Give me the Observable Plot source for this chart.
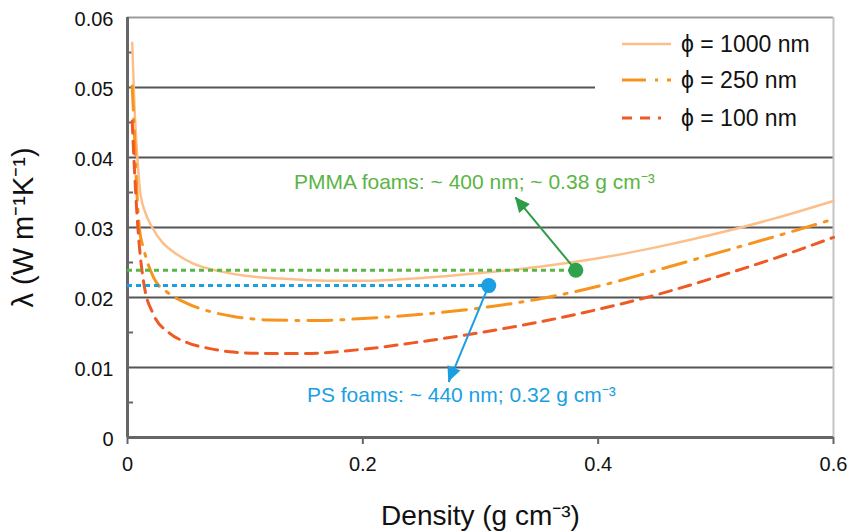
<!DOCTYPE html>
<html>
<head>
<meta charset="utf-8">
<script src="https://cdn.jsdelivr.net/npm/d3@7"></script>
<script src="https://cdn.jsdelivr.net/npm/@observablehq/plot@0.6"></script>
<style>
  body { margin: 0; background: #fff; }
  #wrap { position: relative; width: 849px; height: 532px; font-family: "Liberation Sans", Arial, sans-serif; }
  #legend { position: absolute; left: 615px; top: 26px; }
  .lrow { position: absolute; left: 0; height: 30px; width: 230px; display: flex; align-items: center; white-space: nowrap; }
  .lrow svg { margin-left: 7px; margin-right: 9px; }
  .lrow span { font-size: 23px; color: #111; }
</style>
</head>
<body>
<div id="wrap"></div>
<script>
// ---------- data ----------
const seriesNames = ["ϕ = 1000 nm", "ϕ = 250 nm", "ϕ = 100 nm"];

const density1000 = [0.004, 0.006, 0.008, 0.011, 0.015, 0.021, 0.03, 0.04, 0.055, 0.08, 0.1, 0.13, 0.17, 0.2, 0.25, 0.3, 0.35, 0.4, 0.45, 0.5, 0.55, 0.6];
const lambda1000  = [0.0564, 0.047, 0.041, 0.0348, 0.0322, 0.0300, 0.0278, 0.0264, 0.0249, 0.0237, 0.0231, 0.0227, 0.0224, 0.0224, 0.0228, 0.0235, 0.0244, 0.0256, 0.0272, 0.0291, 0.0313, 0.0338];

const density250 = [0.004, 0.006, 0.008, 0.01, 0.014, 0.022, 0.035, 0.05, 0.07, 0.09, 0.12, 0.16, 0.2, 0.25, 0.3, 0.35, 0.4, 0.45, 0.5, 0.55, 0.6];
const lambda250  = [0.0502, 0.043, 0.035, 0.030, 0.0268, 0.0229, 0.0206, 0.0192, 0.0180, 0.0173, 0.0168, 0.0167, 0.0170, 0.0176, 0.0185, 0.0198, 0.0216, 0.0239, 0.0263, 0.0287, 0.0312];

const density100 = [0.004, 0.006, 0.008, 0.01, 0.014, 0.022, 0.035, 0.05, 0.07, 0.09, 0.12, 0.15, 0.2, 0.25, 0.3, 0.35, 0.4, 0.45, 0.5, 0.55, 0.6];
const lambda100  = [0.0452, 0.038, 0.032, 0.0275, 0.0219, 0.0176, 0.0150, 0.0136, 0.0127, 0.0122, 0.0120, 0.0120, 0.0126, 0.0137, 0.0150, 0.0165, 0.0183, 0.0204, 0.0229, 0.0256, 0.0286];

// annotations (PMMA, PS)
const annotLabels  = ["PMMA foams: ~ 400 nm; ~ 0.38 g cm⁻³", "PS foams: ~ 440 nm; 0.32 g cm⁻³"];
const annotDensity = [0.381, 0.307];
const annotLambda  = [0.0239, 0.0217];
const arrowTipX    = [0.3297, 0.273];
const arrowTipY    = [0.0343, 0.0079];
const labelX       = [0.1415, 0.1525];
const labelY       = [0.0364, 0.0060];

// ticks
const yMajorTicks = [0, 0.01, 0.02, 0.03, 0.04, 0.05, 0.06];
const yMinorTicks = [0.005, 0.015, 0.025, 0.035, 0.045, 0.055];
const xTicks = [0, 0.2, 0.4, 0.6];
const gridFull = [0.01, 0.02, 0.03, 0.04];
const gridPartial = [0.05];
const xTitle = "Density (g cm⁻³)";
const yTitle = "λ (W m⁻¹K⁻¹)";

// ---------- styles ----------
const colors = ["#fdbf8a", "#f7941d", "#ef5a24"];
const dashes = [null, "24,9,3,9", "12,8"];
const widths = [2.5, 3, 3];
const annotColors = ["#5ab544", "#1aa0e0"];
const dotColors = ["#2ea34b", "#1a9fe2"];
const arrowColors = ["#2e9c47", "#1a9fe2"];

const toRows = (xs, ys) => xs.map((x, i) => ({x, y: ys[i]}));
const s1000 = toRows(density1000, lambda1000);
const s250 = toRows(density250, lambda250);
const s100 = toRows(density100, lambda100);
const annot = annotLabels.map((label, i) => ({
  label, x: annotDensity[i], y: annotLambda[i], tx: arrowTipX[i], ty: arrowTipY[i],
  lx: labelX[i], ly: labelY[i], color: annotColors[i], dot: dotColors[i], arrow: arrowColors[i]
}));

// filled arrowheads drawn through the plot's scales
function arrowHeads(index, scales, values, dimensions, context) {
  const g = d3.create("svg:g");
  for (const a of annot) {
    const x1 = scales.x(a.x), y1 = scales.y(a.y), x2 = scales.x(a.tx), y2 = scales.y(a.ty);
    const dx = x2 - x1, dy = y2 - y1, len = Math.hypot(dx, dy);
    const ux = dx / len, uy = dy / len, L = 15, W = 7;
    const bx = x2 - ux * L, by = y2 - uy * L;
    g.append("path")
      .attr("d", `M${x2},${y2}L${bx - uy * W},${by + ux * W}L${bx},${by}L${bx + uy * W},${by - ux * W}Z`)
      .attr("fill", a.arrow);
  }
  return g.node();
}

const chart = Plot.plot({
  width: 849,
  height: 532,
  marginLeft: 127,
  marginRight: 16,
  marginTop: 17,
  marginBottom: 95,
  x: {domain: [0, 0.6]},
  y: {domain: [0, 0.06]},
  style: {fontFamily: '"Liberation Sans", Arial, sans-serif', background: "white", overflow: "visible"},
  marks: [
    Plot.ruleY(gridFull, {stroke: "#555", strokeWidth: 2}),
    Plot.ruleY(gridPartial, {stroke: "#555", strokeWidth: 2, insetRight: 238}),
    Plot.ruleY([0.06], {stroke: "#9c9c9c", strokeWidth: 2}),
    Plot.ruleX([0.6], {stroke: "#c4c4c4", strokeWidth: 2}),
    Plot.ruleY([0], {stroke: "#666", strokeWidth: 3}),
    Plot.ruleX([0], {stroke: "#666", strokeWidth: 3}),
    Plot.axisY(yMajorTicks, {tickSize: 0, tickPadding: 14, fontSize: 20, dy: 2,
      tickFormat: d => d === 0 ? "0" : d3.format(".2f")(d), color: "#111", label: null}),
    Plot.axisY(yMinorTicks, {tickSize: -6, tickFormat: () => "", stroke: "#666", strokeWidth: 2, label: null}),
    Plot.axisX(xTicks, {tickSize: 7, tickPadding: 12, fontSize: 20, stroke: "#666", strokeWidth: 2,
      tickFormat: d => d === 0 ? "0" : d3.format(".1f")(d), color: "#111", label: null}),
    Plot.line(s1000, {x: "x", y: "y", stroke: colors[0], strokeWidth: widths[0], curve: "monotone-x"}),
    Plot.line(s250, {x: "x", y: "y", stroke: colors[1], strokeWidth: widths[1], strokeDasharray: dashes[1], curve: "monotone-x"}),
    Plot.line(s100, {x: "x", y: "y", stroke: colors[2], strokeWidth: widths[2], strokeDasharray: dashes[2], curve: "monotone-x"}),
    Plot.ruleY(annot, {y: "y", x1: 0, x2: "x", stroke: "color", strokeWidth: 3, strokeDasharray: "5,4"}),
    Plot.link(annot, {x1: "x", y1: "y", x2: "tx", y2: "ty", stroke: "arrow", strokeWidth: 2}),
    arrowHeads,
    Plot.dot(annot, {x: "x", y: "y", r: 7.5, fill: "dot"}),
    Plot.text(annot, {x: "lx", y: "ly", text: "label", fill: "color", fontSize: 21, textAnchor: "start"}),
    Plot.text([xTitle], {frameAnchor: "bottom", dy: 87, fontSize: 28, fill: "#111", textAnchor: "middle"}),
    Plot.text([yTitle], {frameAnchor: "left", dx: -104, rotate: -90, fontSize: 29, fill: "#111", textAnchor: "middle"})
  ]
});

const wrap = document.getElementById("wrap");
wrap.appendChild(chart);

// legend (HTML, top right)
const legend = d3.select(wrap).append("div").attr("id", "legend");
const rowTops = [3, 39, 77];
seriesNames.forEach((name, i) => {
  const row = legend.append("div").attr("class", "lrow").style("top", rowTops[i] + "px");
  const svg = row.append("svg").attr("width", 50).attr("height", 10);
  svg.append("line").attr("x1", 0).attr("x2", 49).attr("y1", 5).attr("y2", 5)
    .attr("stroke", colors[i]).attr("stroke-width", widths[i])
    .attr("stroke-dasharray", i === 2 ? "10,8,10,8,3,20" : dashes[i]);
  row.append("span").text(name);
});
</script>
</body>
</html>
